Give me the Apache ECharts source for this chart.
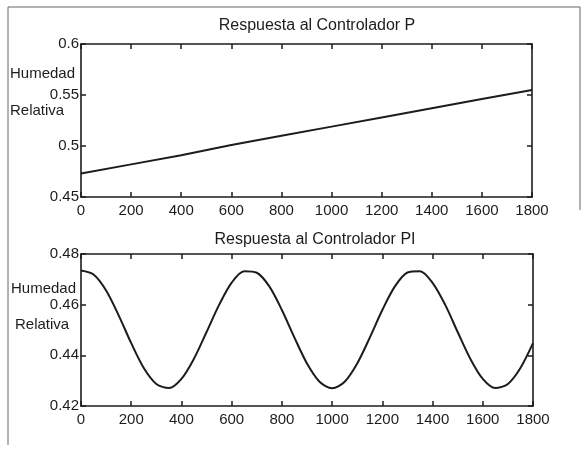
<!DOCTYPE html>
<html>
<head>
<meta charset="utf-8">
<script src="https://cdn.jsdelivr.net/npm/echarts@6/dist/echarts.min.js"></script>
<style>
  html, body { margin: 0; padding: 0; background: #fff; }
  #chart { width: 584px; height: 452px; }
</style>
</head>
<body>
<div id="chart"></div>
<script>
// tiempo (eje x) y respuesta de cada controlador
var xTicks = [0, 200, 400, 600, 800, 1000, 1200, 1400, 1600, 1800];

var tiempoP = [0, 200, 400, 600, 800, 1000, 1200, 1400, 1600, 1800];
var humedadP = [0.473, 0.482, 0.491, 0.501, 0.510, 0.519, 0.528, 0.537, 0.546, 0.555];

var tiempoPI = [0, 50, 100, 150, 200, 250, 300, 350, 400, 450, 500, 550, 600, 650, 700,
  750, 800, 850, 900, 950, 1000, 1050, 1100, 1150, 1200, 1250, 1300, 1350, 1400,
  1450, 1500, 1550, 1600, 1650, 1700, 1750, 1800];
var humedadPI = [0.4735, 0.4719, 0.4656, 0.4558, 0.4448, 0.4350, 0.4287, 0.4271, 0.4307,
  0.4387, 0.4492, 0.4599, 0.4687, 0.4732, 0.4726, 0.4672, 0.4579, 0.4470, 0.4368,
  0.4296, 0.4270, 0.4296, 0.4368, 0.4470, 0.4579, 0.4672, 0.4727, 0.4732, 0.4686,
  0.4600, 0.4492, 0.4387, 0.4307, 0.4271, 0.4287, 0.4350, 0.4448];

var font = 'Liberation Sans, Arial, sans-serif';
var ink = '#1c1c1c';

function pares(xs, ys) {
  return xs.map(function (x, i) { return [x, ys[i]]; });
}

function ejeX(grid, pos) {
  return {
    type: 'value', gridIndex: grid, position: pos,
    min: xTicks[0], max: xTicks[xTicks.length - 1], interval: xTicks[1] - xTicks[0],
    axisLine: { show: true, onZero: false, lineStyle: { color: ink, width: 1.6 } },
    axisTick: { show: true, inside: true, length: 5, lineStyle: { color: ink, width: 1.5 } },
    axisLabel: {
      show: pos === 'bottom', color: ink, fontFamily: font, fontSize: 15, margin: 6,
      formatter: function (v) { return String(v); }
    },
    splitLine: { show: false }
  };
}

function ejeY(grid, pos, min, max, step) {
  return {
    type: 'value', gridIndex: grid, position: pos,
    min: min, max: max, interval: step,
    axisLine: { show: true, onZero: false, lineStyle: { color: ink, width: 1.6 } },
    axisTick: { show: true, inside: true, length: 5, lineStyle: { color: ink, width: 1.5 } },
    axisLabel: { show: pos === 'left', color: ink, fontFamily: font, fontSize: 15, margin: 2 },
    splitLine: { show: false }
  };
}

function texto(txt, x, y) {
  return {
    type: 'text', left: x, top: y,
    style: { text: txt, fill: ink, font: '15px ' + font }
  };
}

var myChart = echarts.init(document.getElementById('chart'));

myChart.setOption({
  backgroundColor: '#fff',
  animation: false,
  title: [
    { text: 'Respuesta al Controlador P', left: 312, top: 13, textAlign: 'center',
      textStyle: { fontFamily: font, fontSize: 16, fontWeight: 'normal', color: ink } },
    { text: 'Respuesta al Controlador PI', left: 310, top: 227, textAlign: 'center',
      textStyle: { fontFamily: font, fontSize: 16, fontWeight: 'normal', color: ink } }
  ],
  grid: [
    { left: 81, top: 44, width: 451, height: 153 },
    { left: 81, top: 254, width: 452, height: 152 }
  ],
  xAxis: [ejeX(0, 'bottom'), ejeX(0, 'top'), ejeX(1, 'bottom'), ejeX(1, 'top')],
  yAxis: [
    ejeY(0, 'left', 0.45, 0.6, 0.05), ejeY(0, 'right', 0.45, 0.6, 0.05),
    ejeY(1, 'left', 0.42, 0.48, 0.02), ejeY(1, 'right', 0.42, 0.48, 0.02)
  ],
  graphic: [
    { type: 'polyline', shape: { points: [[8, 445], [8, 7], [580, 7], [580, 210]] },
      style: { stroke: '#666', lineWidth: 1, fill: null } },
    texto('Humedad', 10, 66),
    texto('Relativa', 10, 103),
    texto('Humedad', 11, 281),
    texto('Relativa', 15, 317)
  ],
  series: [
    {
      type: 'line', xAxisIndex: 0, yAxisIndex: 0,
      data: pares(tiempoP, humedadP),
      showSymbol: false,
      lineStyle: { color: ink, width: 2 }
    },
    {
      type: 'line', xAxisIndex: 2, yAxisIndex: 2,
      data: pares(tiempoPI, humedadPI),
      smooth: 0.3,
      showSymbol: false,
      lineStyle: { color: ink, width: 2 }
    }
  ]
});
</script>
</body>
</html>
